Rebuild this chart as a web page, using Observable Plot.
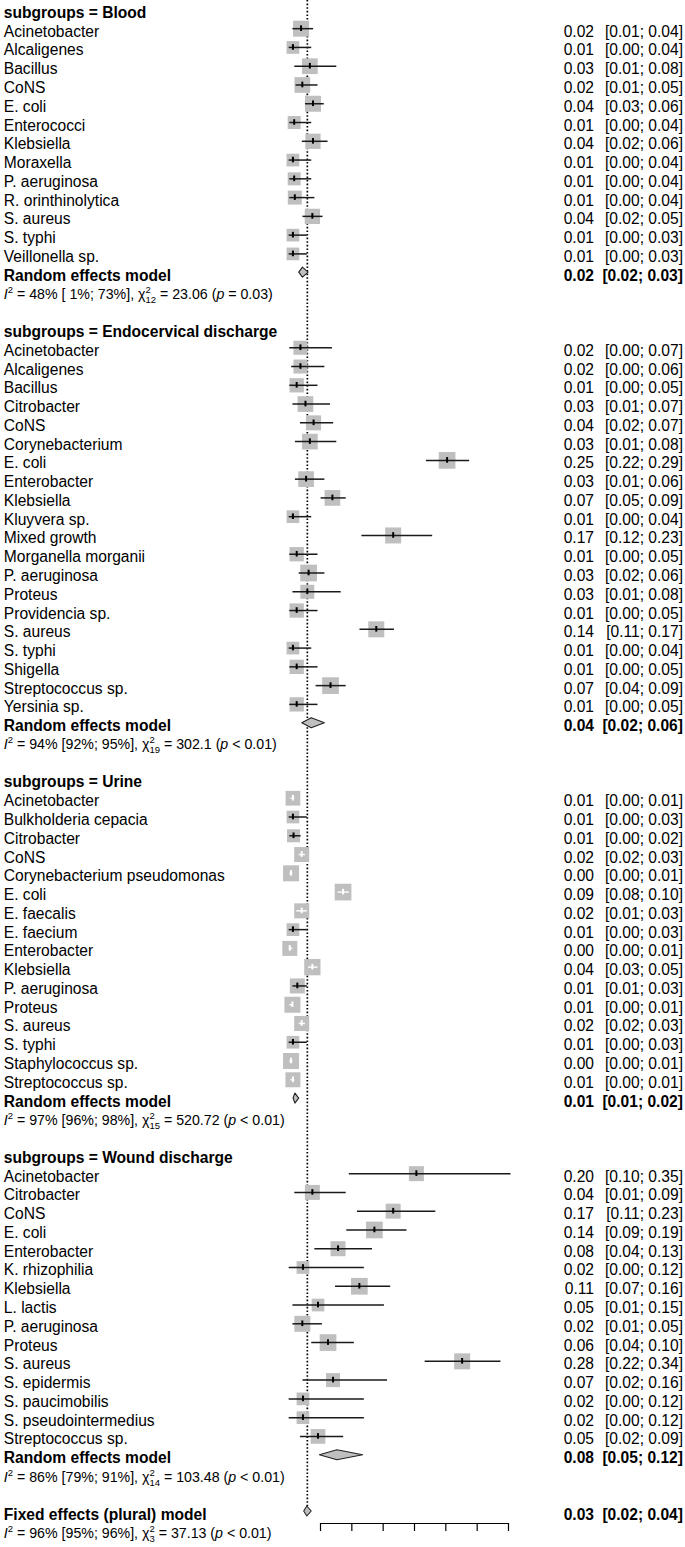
<!DOCTYPE html>
<html><head><meta charset="utf-8">
<script src="https://cdn.jsdelivr.net/npm/d3@7"></script>
<script src="https://cdn.jsdelivr.net/npm/@observablehq/plot@0.6"></script>
<style>
html,body{margin:0;padding:0;background:#fff;}
#chart svg{display:block;}
</style></head><body><div id="chart"></div>
<script>
// ---------------- data ----------------
const groupNames = ["Blood", "Endocervical discharge", "Urine", "Wound discharge"];

const bloodStudies = ["Acinetobacter","Alcaligenes","Bacillus","CoNS","E. coli","Enterococci","Klebsiella","Moraxella","P. aeruginosa","R. orinthinolytica","S. aureus","S. typhi","Veillonella sp."];
const bloodEst = [0.019,0.006,0.033,0.021,0.038,0.008,0.038,0.006,0.008,0.009,0.037,0.006,0.006];
const bloodLo  = [0.006,0.000,0.009,0.011,0.026,0.001,0.021,0.000,0.001,0.001,0.022,0.000,0.000];
const bloodHi  = [0.039,0.036,0.076,0.046,0.056,0.036,0.062,0.036,0.036,0.041,0.054,0.029,0.029];
const bloodW   = [16,12.7,15.7,15.7,16,13,15.3,12.7,13,14,15.3,12.7,12.7];
const bloodRE  = [0.022, 0.016, 0.031];

const endoStudies = ["Acinetobacter","Alcaligenes","Bacillus","Citrobacter","CoNS","Corynebacterium","E. coli","Enterobacter","Klebsiella","Kluyvera sp.","Mixed growth","Morganella morganii","P. aeruginosa","Proteus","Providencia sp.","S. aureus","S. typhi","Shigella","Streptococcus sp.","Yersinia sp."];
const endoEst = [0.018,0.018,0.012,0.026,0.039,0.033,0.252,0.027,0.069,0.006,0.166,0.012,0.031,0.029,0.012,0.139,0.006,0.012,0.066,0.012];
const endoLo  = [0.001,0.004,0.001,0.006,0.018,0.010,0.219,0.010,0.051,0.000,0.116,0.001,0.016,0.006,0.001,0.113,0.000,0.001,0.043,0.001];
const endoHi  = [0.069,0.057,0.046,0.066,0.071,0.076,0.288,0.057,0.091,0.036,0.229,0.046,0.057,0.083,0.046,0.168,0.036,0.046,0.091,0.046];
const endoW   = [14,14,14.3,15.7,15,15.7,16.7,15.7,15.7,12.7,16,14.3,16.7,14,14.3,16,12.7,14.3,16.7,14.3];
const endoRE  = [0.036, 0.021, 0.057];

const urineStudies = ["Acinetobacter","Bulkholderia cepacia","Citrobacter","CoNS","Corynebacterium pseudomonas","E. coli","E. faecalis","E. faecium","Enterobacter","Klebsiella","P. aeruginosa","Proteus","S. aureus","S. typhi","Staphylococcus sp.","Streptococcus sp."];
const urineEst = [0.006,0.006,0.007,0.020,0.003,0.086,0.020,0.006,0.001,0.037,0.013,0.0052,0.020,0.006,0.003,0.006];
const urineLo  = [0.003,0.000,0.001,0.016,0.001,0.078,0.012,0.000,0.000,0.031,0.006,0.001,0.016,0.000,0.001,0.003];
const urineHi  = [0.009,0.029,0.019,0.026,0.006,0.096,0.029,0.029,0.006,0.046,0.029,0.006,0.026,0.029,0.006,0.009];
const urineW   = [14.7,12.7,13,15,16,16.7,15,12.7,15,16.3,15,16,15,12.7,16,15];
const urineRE  = [0.010, 0.007, 0.016];

const woundStudies = ["Acinetobacter","Citrobacter","CoNS","E. coli","Enterobacter","K. rhizophilia","Klebsiella","L. lactis","P. aeruginosa","Proteus","S. aureus","S. epidermis","S. paucimobilis","S. pseudointermedius","Streptococcus sp."];
const woundEst = [0.203,0.037,0.166,0.136,0.078,0.022,0.112,0.046,0.021,0.062,0.276,0.070,0.022,0.022,0.046];
const woundLo  = [0.096,0.009,0.109,0.092,0.041,0.000,0.074,0.006,0.006,0.036,0.217,0.022,0.000,0.000,0.018];
const woundHi  = [0.354,0.091,0.234,0.188,0.133,0.120,0.162,0.152,0.053,0.104,0.338,0.157,0.120,0.120,0.087];
const woundW   = [15,15,15,16.7,15,12.7,16.7,12.7,16,16.7,16,14,12.7,12.7,14.7];
const woundRE  = [0.077, 0.049, 0.118];

const fixedModel = [0.029, 0.024, 0.036];

// heterogeneity statistics: subgroups then overall
const statI2   = ["48%","94%","97%","86%","96%"];
const statI2CI = ["[ 1%; 73%]","[92%; 95%]","[96%; 98%]","[79%; 91%]","[95%; 96%]"];
const statDf   = ["12","19","15","14","3"];
const statQ    = ["23.06","302.1","520.72","103.48","37.13"];
const statPop  = ["=","<","<","<","<"];
const statP    = ["0.03","0.01","0.01","0.01","0.01"];

const xTicks = [0.05,0.10,0.15,0.20,0.25,0.30,0.35];

// ---------------- layout ----------------
const W = 685, H = 1547;
const ROW0 = 9.4, ROWH = 18.77, NROWS = 82;
const X_DOMAIN = [0.05, 0.35], X_RANGE = [320, 508];
const xs = d3.scaleLinear(X_DOMAIN, X_RANGE);
const fmt = v => v.toFixed(2);

const groups = [
  [bloodStudies, bloodEst, bloodLo, bloodHi, bloodW, bloodRE],
  [endoStudies, endoEst, endoLo, endoHi, endoW, endoRE],
  [urineStudies, urineEst, urineLo, urineHi, urineW, urineRE],
  [woundStudies, woundEst, woundLo, woundHi, woundW, woundRE]
];

const headers = [], studies = [], models = [], stats = [];
let row = 0;
groups.forEach(([names, est, lo, hi, w, re], g) => {
  headers.push({row, label: "subgroups = " + groupNames[g]}); row++;
  names.forEach((label, i) => {
    const cx = xs(est[i]);
    const inside = xs(lo[i]) > cx - w[i] / 2 && xs(hi[i]) < cx + w[i] / 2;
    studies.push({row, label, est: est[i], lo: lo[i], hi: hi[i], w: w[i], inside});
    row++;
  });
  models.push({row, label: "Random effects model", est: re[0], lo: re[1], hi: re[2]}); row++;
  stats.push({row, k: g}); row++;
  row++; // blank line
});
const fixedRow = row;
models.push({row, label: "Fixed effects (plural) model", est: fixedModel[0], lo: fixedModel[1], hi: fixedModel[2]}); row++;
stats.push({row, k: 4});

stats.forEach(s => {
  const k = s.k;
  s.plain = `I2 = ${statI2[k]} ${statI2CI[k]}, chi2 ${statDf[k]} = ${statQ[k]} (p ${statPop[k]} ${statP[k]})`;
});

// diamond outlines
const DH = 5 / ROWH;
const diamonds = [];
models.forEach((m, id) => {
  diamonds.push({id, x: m.lo, y1: m.row, y2: m.row});
  diamonds.push({id, x: m.est, y1: m.row - DH, y2: m.row + DH});
  diamonds.push({id, x: m.hi, y1: m.row, y2: m.row});
});

const GRAY = "#bfbfbf";
const FONT = "'Liberation Sans', Arial, Helvetica, sans-serif";
const TXT_DY = 3;

const svg = Plot.plot({
  width: W, height: H,
  marginLeft: 0, marginRight: 0, marginTop: 0, marginBottom: 24,
  x: {domain: X_DOMAIN, range: X_RANGE, label: null},
  y: {domain: [0, NROWS - 1], range: [ROW0, ROW0 + (NROWS - 1) * ROWH], axis: null},
  r: {type: "identity"},
  style: {fontFamily: FONT, fontSize: "15.6px", color: "#000", background: "#fff", overflow: "visible"},
  marks: [
    // reference line at overall estimate
    Plot.ruleX([fixedModel[0]], {x: d => d, y1: -0.5, y2: fixedRow - DH, stroke: "#000", strokeWidth: 1.7, strokeDasharray: "1.6,2"}),
    // study squares
    Plot.dot(studies, {x: "est", y: "row", r: d => d.w / Math.sqrt(Math.PI), symbol: "square", fill: GRAY, stroke: null}),
    // confidence intervals
    Plot.ruleY(studies.filter(d => !d.inside), {y: "row", x1: "lo", x2: "hi", stroke: "#1a1a1a", strokeWidth: 1.5}),
    Plot.ruleY(studies.filter(d => d.inside), {y: "row", x1: "lo", x2: "hi", stroke: "#fff", strokeWidth: 1.4}),
    Plot.ruleX(studies, {x: "est", y1: d => d.row - 0.15, y2: d => d.row + 0.15, stroke: d => d.inside ? "#fff" : "#000", strokeWidth: 2}),
    // summary diamonds
    Plot.areaY(diamonds, {x: "x", y1: "y1", y2: "y2", z: "id", fill: GRAY, stroke: "#222", strokeWidth: 1.1, curve: "linear"}),
    // axis
    Plot.ruleY([fixedRow], {x1: X_DOMAIN[0], x2: X_DOMAIN[1], dy: 12, stroke: "#000", strokeWidth: 1.2}),
    Plot.axisX({ticks: xTicks, tickSize: 8, tickFormat: () => "", label: null, stroke: "#000", strokeWidth: 1.2}),
    // left labels
    Plot.text(headers, {y: "row", text: "label", frameAnchor: "left", textAnchor: "start", dx: 3.3, dy: TXT_DY, fontWeight: "bold", fill: "#000"}),
    Plot.text(models, {y: "row", text: "label", frameAnchor: "left", textAnchor: "start", dx: 3.3, dy: TXT_DY, fontWeight: "bold", fill: "#000"}),
    Plot.text(studies, {y: "row", text: "label", frameAnchor: "left", textAnchor: "start", dx: 3.3, dy: TXT_DY, fill: "#000"}),
    // right columns
    Plot.text(studies, {y: "row", text: d => fmt(d.est), frameAnchor: "right", textAnchor: "end", dx: -91.5, dy: TXT_DY, fill: "#000"}),
    Plot.text(studies, {y: "row", text: d => `[${fmt(d.lo)}; ${fmt(d.hi)}]`, frameAnchor: "right", textAnchor: "end", dx: -2.5, dy: TXT_DY, fill: "#000"}),
    Plot.text(models, {y: "row", text: d => fmt(d.est), frameAnchor: "right", textAnchor: "end", dx: -91.5, dy: TXT_DY, fontWeight: "bold", fill: "#000"}),
    Plot.text(models, {y: "row", text: d => `[${fmt(d.lo)}; ${fmt(d.hi)}]`, frameAnchor: "right", textAnchor: "end", dx: -2.5, dy: TXT_DY, fontWeight: "bold", fill: "#000"}),
    // heterogeneity lines
    Plot.text(stats, {y: "row", text: "plain", frameAnchor: "left", textAnchor: "start", dx: 3.3, dy: TXT_DY, fontSize: 14.2, fill: "#000", ariaDescription: "stats"})
  ]
});

// typeset the heterogeneity statistics with italics, superscripts and subscripts
d3.select(svg).selectAll('g[aria-description="stats"] text').each(function(_, j) {
  const k = stats[j].k;
  const t = d3.select(this);
  t.text(null).style("white-space", "pre");
  t.append("tspan").attr("font-style", "italic").text("I");
  t.append("tspan").attr("font-size", 9.5).attr("dy", -6).text("2");
  t.append("tspan").attr("dy", 6).text(` = ${statI2[k]} ${statI2CI[k]}, `);
  t.append("tspan").text("\u03C7");
  t.append("tspan").attr("font-size", 9.5).attr("dy", -6).text("2");
  t.append("tspan").attr("font-size", 9.5).attr("dy", 10).attr("dx", -5.3).text(statDf[k]);
  t.append("tspan").attr("dy", -4).text(` = ${statQ[k]} (`);
  t.append("tspan").attr("font-style", "italic").text("p");
  t.append("tspan").text(` ${statPop[k]} ${statP[k]})`);
});

document.getElementById("chart").appendChild(svg);
</script>
</body></html>
